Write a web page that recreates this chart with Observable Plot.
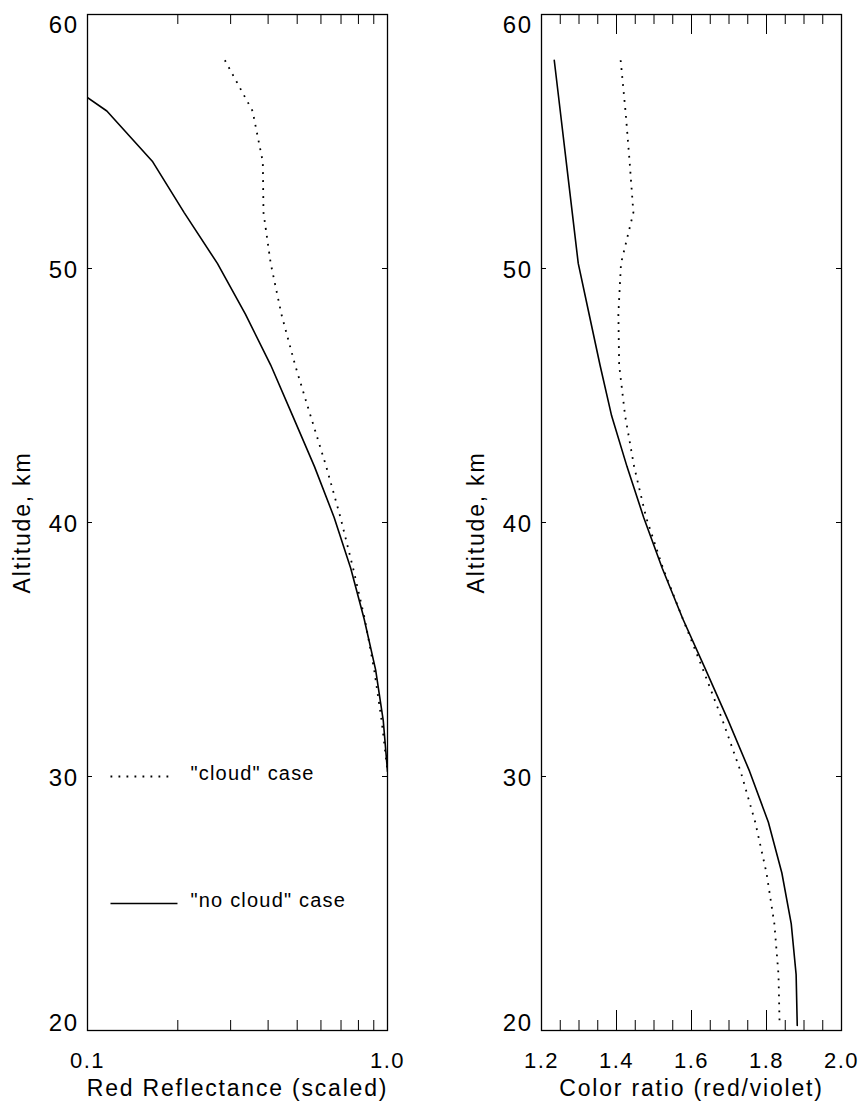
<!DOCTYPE html>
<html>
<head>
<meta charset="utf-8">
<script src="https://cdn.jsdelivr.net/npm/d3@7"></script>
<script src="https://cdn.jsdelivr.net/npm/@observablehq/plot@0.6"></script>
<style>
html, body { margin: 0; padding: 0; background: #fff; }
#chart { display: flex; width: 862px; height: 1104px; }
#chart svg { display: block; }
</style>
</head>
<body>
<div id="chart"></div>
<script>
// ---------- data ----------
const altitude = [58.2, 56.2, 54.2, 52.2, 50.2, 48.2, 46.2, 44.2, 42.2, 40.2,
                  38.2, 36.2, 34.2, 32.2, 30.2, 28.2, 26.2, 24.2, 22.2, 20.2];

// Left panel: red reflectance (scaled), altitudes 58.2 .. 30.2
const redNoCloud = [0.066, 0.116, 0.165, 0.21, 0.271, 0.336, 0.408, 0.483, 0.571, 0.664,
                    0.754, 0.836, 0.913, 0.968, 1.0];
const redCloud   = [0.287, 0.355, 0.384, 0.386, 0.408, 0.443, 0.492, 0.554, 0.625, 0.697,
                    0.768, 0.84, 0.903, 0.956, 1.0];

// Right panel: color ratio (red/violet), altitudes 58.2 .. 20.2
const ratioNoCloud = [1.234, 1.250, 1.266, 1.282, 1.298, 1.327, 1.356, 1.387, 1.428, 1.4725,
                      1.522, 1.577, 1.638, 1.698, 1.755, 1.805, 1.841, 1.866, 1.879, 1.882];
const ratioCloud   = [1.411, 1.424, 1.435, 1.445, 1.412, 1.405, 1.407, 1.423, 1.447, 1.479,
                      1.524, 1.577, 1.631, 1.683, 1.731, 1.770, 1.800, 1.821, 1.832, 1.835];

// axes / ticks
const yDomain = [20, 60];
const yTickValues = [20, 30, 40, 50, 60];
const yTitle = "Altitude, km";

const leftXDomain = [0.1, 1.0];
const leftXLabelValues = [0.1, 1.0];
const leftXLabelText = ["0.1", "1.0"];
const leftXMinor = [0.2, 0.3, 0.4, 0.5, 0.6, 0.7, 0.8, 0.9];
const leftXTitle = "Red Reflectance (scaled)";

const rightXDomain = [1.2, 2.0];
const rightXLabelValues = [1.2, 1.4, 1.6, 1.8, 2.0];
const rightXLabelText = ["1.2", "1.4", "1.6", "1.8", "2.0"];
const rightXMajor = [1.4, 1.6, 1.8];
const rightXMinor = [1.25, 1.3, 1.35, 1.45, 1.5, 1.55, 1.65, 1.7, 1.75, 1.85, 1.9, 1.95];
const rightXTitle = "Color ratio (red/violet)";

// legend (left panel)
const legendLabels = ['"cloud" case', '"no cloud" case'];
const legendAlt = [30, 25];
const legendX1 = [0.1193, 0.1193];
const legendX2 = [0.1935, 0.1995];
const legendTextX = [0.2204, 0.2204];

// ---------- drawing ----------
const W = 431, H = 1104, MT = 14, MB = 74;
const FH = H - MT - MB;
const FONT = "'Liberation Sans', Arial, Helvetica, sans-serif";

function panel(o) {
  const FW = W - o.marginLeft - o.marginRight;
  const labels = o.xLabelValues.map((v, i) => ({v, t: o.xLabelText[i]}));
  const yMid = yTickValues.filter(v => v > yDomain[0] && v < yDomain[1]);
  const marks = [
    ...o.xTickGroups.flatMap(([vals, len]) => [
      Plot.ruleX(vals, {x: d => d, insetTop: FH - len, stroke: "black", strokeWidth: 1}),
      Plot.ruleX(vals, {x: d => d, insetBottom: FH - len, stroke: "black", strokeWidth: 1})
    ]),
    Plot.ruleY(yMid, {y: d => d, insetRight: FW - 5, stroke: "black", strokeWidth: 1}),
    Plot.ruleY(yMid, {y: d => d, insetLeft: FW - 5, stroke: "black", strokeWidth: 1}),
    Plot.frame({stroke: "black", strokeWidth: 1.3}),
    Plot.text(yMid, {y: d => d, text: d => String(d), frameAnchor: "left", textAnchor: "end", dx: -9, dy: 2, fontSize: 24}),
    Plot.text([yDomain[0]], {y: d => d, text: d => String(d), frameAnchor: "left", textAnchor: "end", dx: -9, lineAnchor: "bottom", fontSize: 24}),
    Plot.text([yDomain[1]], {y: d => d, text: d => String(d), frameAnchor: "left", textAnchor: "end", dx: -9, lineAnchor: "top", dy: 1, fontSize: 24}),
    Plot.text(labels, {x: "v", text: "t", frameAnchor: "bottom", lineAnchor: "bottom", dy: 37, fontSize: 22}),
    Plot.text([o.xTitle], {text: d => d, frameAnchor: "bottom", textAnchor: "middle", lineAnchor: "bottom", dy: 65, fontSize: 23}),
    Plot.text([yTitle], {text: d => d, frameAnchor: "left", textAnchor: "middle", lineAnchor: "middle", rotate: -90, dx: -65, fontSize: 23}),
    Plot.line(o.cloud.map((v, i) => ({x: v, y: altitude[i]})), {x: "x", y: "y", stroke: "black", strokeWidth: 1.8, strokeDasharray: "1.8,6.2", strokeLinecap: "butt", clip: true}),
    Plot.line(o.noCloud.map((v, i) => ({x: v, y: altitude[i]})), {x: "x", y: "y", stroke: "black", strokeWidth: 1.6, clip: true}),
    ...(o.legend ? o.legend : [])
  ];
  return Plot.plot({
    width: W, height: H,
    marginLeft: o.marginLeft, marginRight: o.marginRight, marginTop: MT, marginBottom: MB,
    style: {fontFamily: FONT, fontSize: "22px", background: "white", color: "black", overflow: "visible"},
    x: {type: o.xType, domain: o.xDomain, axis: null},
    y: {domain: yDomain, axis: null},
    marks
  });
}

const legendData = legendLabels.map((t, i) => ({t, y: legendAlt[i], x1: legendX1[i], x2: legendX2[i], xt: legendTextX[i]}));
const legendMarks = [
  Plot.link([legendData[0]], {x1: "x1", x2: "x2", y1: "y", y2: "y", stroke: "black", strokeWidth: 1.8, strokeDasharray: "1.8,6.2"}),
  Plot.link([legendData[1]], {x1: "x1", x2: "x2", y1: "y", y2: "y", stroke: "black", strokeWidth: 1.6}),
  Plot.text(legendData, {x: "xt", y: "y", text: "t", textAnchor: "start", dy: -3, fontSize: 20})
];

const left = panel({
  xType: "log", xDomain: leftXDomain, marginLeft: 87, marginRight: 44,
  xLabelValues: leftXLabelValues, xLabelText: leftXLabelText,
  xTickGroups: [[leftXMinor, 10]],
  xTitle: leftXTitle, cloud: redCloud, noCloud: redNoCloud, legend: legendMarks
});
const right = panel({
  xType: "linear", xDomain: rightXDomain, marginLeft: 110, marginRight: 21,
  xLabelValues: rightXLabelValues, xLabelText: rightXLabelText,
  xTickGroups: [[rightXMajor, 20], [rightXMinor, 10]],
  xTitle: rightXTitle, cloud: ratioCloud, noCloud: ratioNoCloud
});

const chart = document.getElementById("chart");
chart.appendChild(left);
chart.appendChild(right);

// typographic spacing (mimics the wide stroke font of the original)
d3.selectAll("#chart svg text").each(function() {
  const t = this.textContent;
  let ls = "1.5px";
  if (t === leftXTitle || t === rightXTitle || t === yTitle) ls = "1.8px";
  else if (legendLabels.includes(t)) ls = "1.2px";
  d3.select(this).style("letter-spacing", ls);
});
</script>
</body>
</html>
